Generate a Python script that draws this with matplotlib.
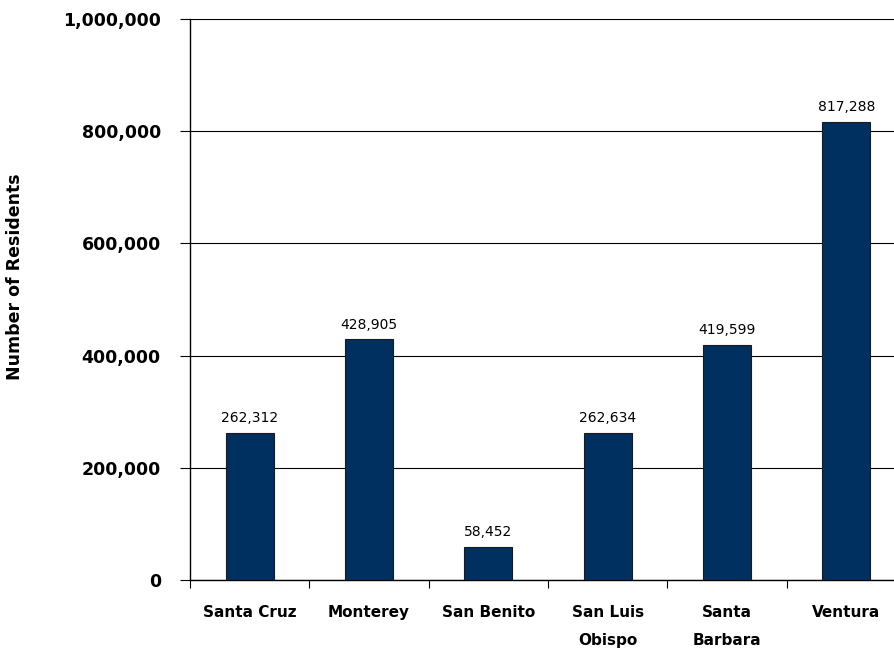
import matplotlib
matplotlib.use("Agg")
import matplotlib.pyplot as plt
from matplotlib.ticker import FuncFormatter

categories = ["Santa Cruz", "Monterey", "San Benito", "San Luis\nObispo", "Santa\nBarbara", "Ventura"]
values = [262312, 428905, 58452, 262634, 419599, 817288]
yticks = [0, 200000, 400000, 600000, 800000, 1000000]

fig = plt.figure(figsize=(8.95, 6.56), dpi=100)
# axes extends slightly past the right edge, as in the reference
left, right = 190/895, 906/895
bottom, top = 1 - 580/656, 1 - 19/656
ax = fig.add_axes([left, bottom, right - left, top - bottom])

x = list(range(len(categories)))
ax.bar(x, values, width=0.4, color="#00305F", edgecolor="#1a1a1a", linewidth=0.8, zorder=3)

for xi, v in zip(x, values):
    ax.text(xi, v + 14000, f"{v:,}", ha="center", va="bottom", fontsize=10,
            family="DejaVu Sans", color="black")

ax.set_xlim(-0.5, len(categories) - 0.5)
ax.set_ylim(0, 1000000)
ax.set_yticks(yticks)
ax.yaxis.set_major_formatter(FuncFormatter(lambda v, p: f"{int(v):,}"))
ax.yaxis.grid(True, color="black", linewidth=0.8, zorder=0)
ax.set_axisbelow(True)

ax.set_xticks([i for i in x])
ax.set_xticklabels(categories, fontsize=11, fontweight="bold", linespacing=2.05)
ax.set_xticks([i - 0.5 for i in range(len(categories) + 1)], minor=True)
ax.tick_params(axis="x", which="major", length=0, pad=18)
ax.tick_params(axis="x", which="minor", length=6, width=0.8, direction="out")
ax.tick_params(axis="y", length=7, width=0.8, direction="out", pad=14, labelsize=12.5)
for lbl in ax.get_yticklabels():
    lbl.set_fontweight("bold")
for lbl in ax.get_xticklabels():
    lbl.set_verticalalignment("top")

for s in ["top", "right"]:
    ax.spines[s].set_visible(False)
ax.spines["left"].set_linewidth(1.0)
ax.spines["bottom"].set_linewidth(1.0)

fig.text(15/895, 1 - 277/656, "Number of Residents", rotation=90, ha="center", va="center",
         fontsize=12.5, fontweight="bold")

fig.savefig("out.png", dpi=100)
